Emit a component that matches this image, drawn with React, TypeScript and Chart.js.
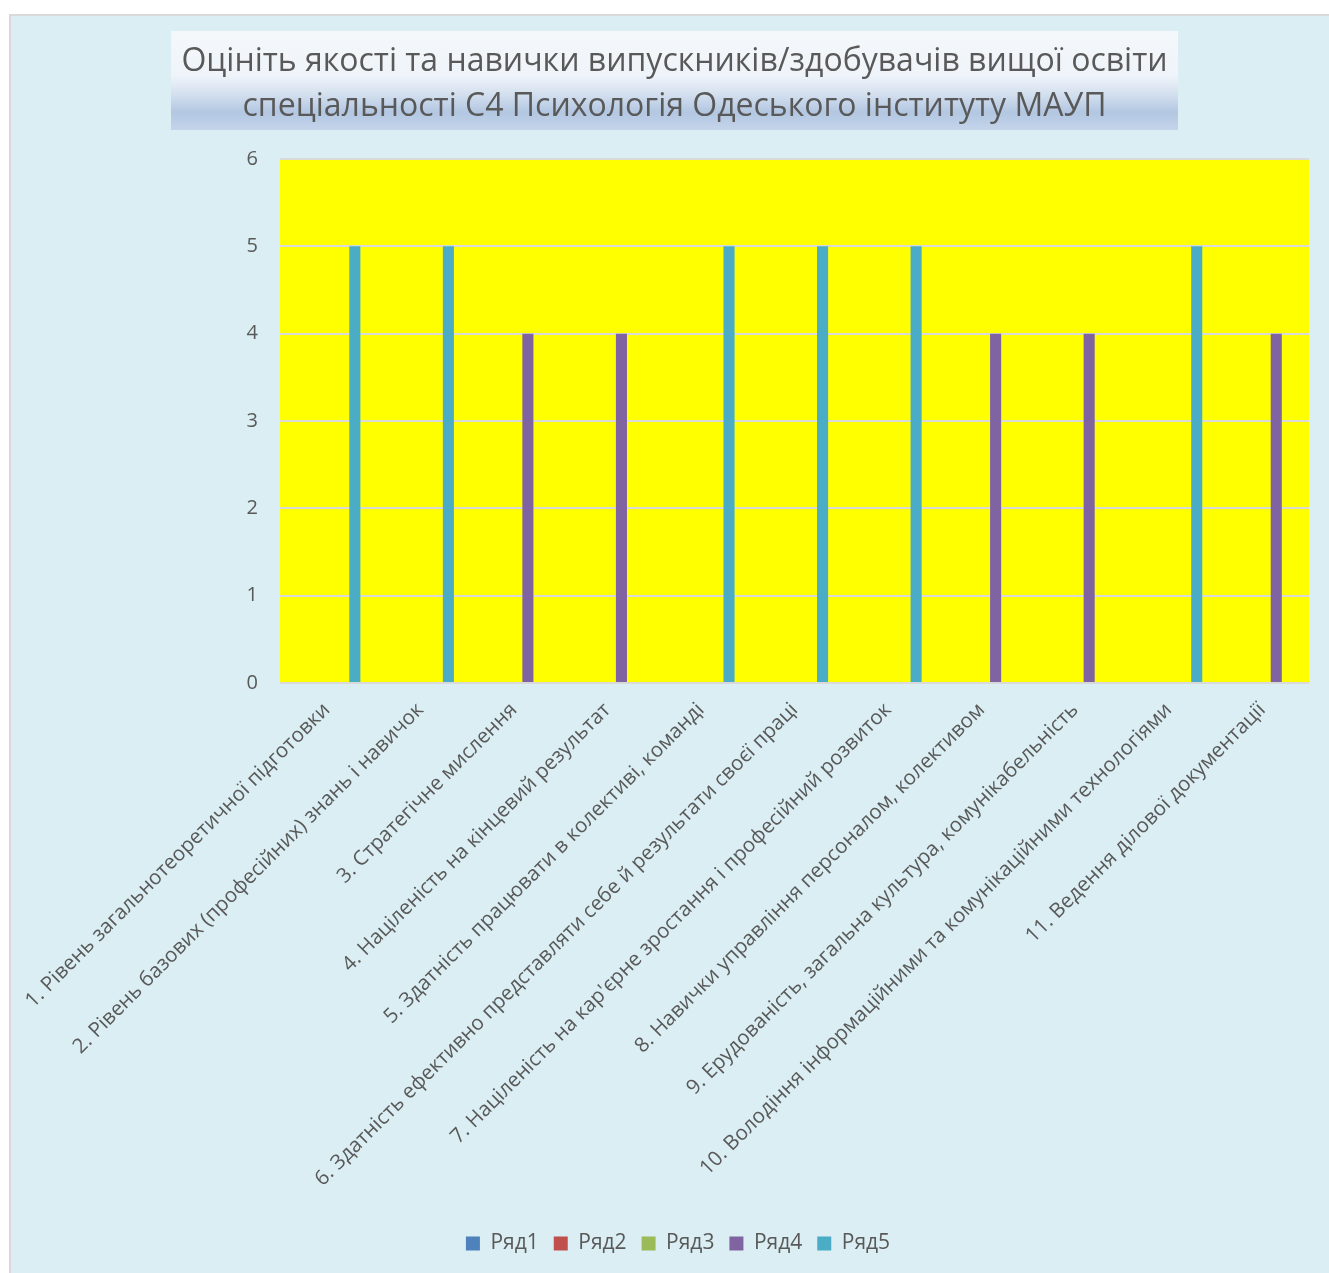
import React, { useEffect, useRef } from "react";
import { Chart, registerables } from "chart.js";

Chart.register(...registerables);

const titleLines = [
  "Оцініть якості та навички випускників/здобувачів вищої освіти",
  "спеціальності С4 Психологія Одеського інституту МАУП",
];

const categories = [
  "1. Рівень загальнотеоретичної підготовки",
  "2. Рівень базових (професійних) знань і навичок",
  "3. Стратегічне мислення",
  "4. Націленість на кінцевий результат",
  "5. Здатність працювати в колективі, команді",
  "6. Здатність ефективно представляти себе й результати своєї праці",
  "7. Націленість на кар'єрне зростання і професійний розвиток",
  "8. Навички управління персоналом, колективом",
  "9. Ерудованість, загальна культура, комунікабельність",
  "10. Володіння інформаційними та комунікаційними технологіями",
  "11. Ведення ділової документації",
];

const seriesNames = ["Ряд1", "Ряд2", "Ряд3", "Ряд4", "Ряд5"];
const seriesColors = ["#4F81BD", "#C0504D", "#9BBB59", "#8064A2", "#4BACC6"];

const series1 = [0, 0, 0, 0, 0, 0, 0, 0, 0, 0, 0];
const series2 = [0, 0, 0, 0, 0, 0, 0, 0, 0, 0, 0];
const series3 = [0, 0, 0, 0, 0, 0, 0, 0, 0, 0, 0];
const series4 = [null, null, 4, 4, null, null, null, 4, 4, null, 4];
const series5 = [5, 5, null, null, 5, 5, 5, null, null, 5, null];

const yMin = 0;
const yMax = 6;
const yStep = 1;

const TEXT = "#595959";
const FONT = "'Open Sans', 'Noto Sans', sans-serif";

const decorPlugin = {
  id: "decor",
  beforeDraw(chart: any) {
    const { ctx, chartArea } = chart;
    ctx.save();
    // plot area
    ctx.fillStyle = "#FFFF00";
    ctx.fillRect(chartArea.left, chartArea.top, chartArea.right - chartArea.left, chartArea.bottom - chartArea.top);
    // title box
    const bx = 160, by = 15, bw = 1007, bh = 99;
    const g = ctx.createLinearGradient(0, by, 0, by + bh);
    g.addColorStop(0, "#F4F8FB");
    g.addColorStop(0.45, "#EFF4FA");
    g.addColorStop(0.62, "#D7E2F0");
    g.addColorStop(0.82, "#B3C7E2");
    g.addColorStop(1, "#C4D4EA");
    ctx.fillStyle = g;
    ctx.fillRect(bx, by, bw, bh);
    ctx.fillStyle = TEXT;
    ctx.font = `32px ${FONT}`;
    ctx.textAlign = "center";
    ctx.textBaseline = "middle";
    const cx = bx + bw / 2;
    ctx.fillText(titleLines[0], cx, 46);
    ctx.fillText(titleLines[1], cx, 91);
    ctx.restore();
  },
};

export default function App() {
  const ref = useRef<HTMLCanvasElement | null>(null);
  useEffect(() => {
    if (!ref.current) return;
    const all = [series1, series2, series3, series4, series5];
    const chart = new Chart(ref.current, {
      type: "bar",
      data: {
        labels: categories,
        datasets: all.map((d, i) => ({
          label: seriesNames[i],
          data: d as any,
          backgroundColor: seriesColors[i],
          borderWidth: 0,
          categoryPercentage: 0.75,
          barPercentage: 0.79,
        })),
      },
      options: {
        responsive: false,
        animation: false,
        devicePixelRatio: 1,
        layout: { padding: { left: 36, right: 20, top: 143, bottom: 9 } },
        plugins: {
          title: { display: false },
          tooltip: { enabled: false },
          legend: {
            position: "bottom",
            labels: {
              boxWidth: 14,
              boxHeight: 14,
              padding: 15,
              color: TEXT,
              font: { family: FONT, size: 21 },
            },
          },
        },
        scales: {
          x: {
            grid: { display: false, drawTicks: false },
            border: { display: false },
            ticks: {
              color: TEXT,
              font: { family: FONT, size: 20.5 },
              minRotation: 45,
              maxRotation: 45,
              autoSkip: false,
              padding: 15,
            },
            afterFit: (s: any) => {
              s.height = 535;
              s.paddingLeft = 0;
              s.paddingRight = 0;
            },
          },
          y: {
            min: yMin,
            max: yMax,
            grid: { color: "#D9D9D9", lineWidth: 2, drawTicks: false },
            border: { display: false },
            ticks: {
              stepSize: yStep,
              color: TEXT,
              font: { family: FONT, size: 20 },
              padding: 22,
            },
            afterFit: (s: any) => {
              s.width = 233;
            },
          },
        },
      },
      plugins: [decorPlugin],
    });
    return () => chart.destroy();
  }, []);

  return (
    <div style={{ position: "absolute", left: 0, top: 0, width: 1329, height: 1273, background: "#FFFFFF", overflow: "hidden" }}>
      <div
        style={{
          position: "absolute",
          left: 9,
          top: 14,
          width: 1320,
          height: 1259,
          boxSizing: "border-box",
          borderTop: "2px solid #D9D9D9",
          borderLeft: "2px solid #D9D9D9",
          background: "#DAEEF3",
        }}
      >
        <canvas ref={ref} width={1318} height={1257} style={{ display: "block", width: 1318, height: 1257 }} />
      </div>
    </div>
  );
}
